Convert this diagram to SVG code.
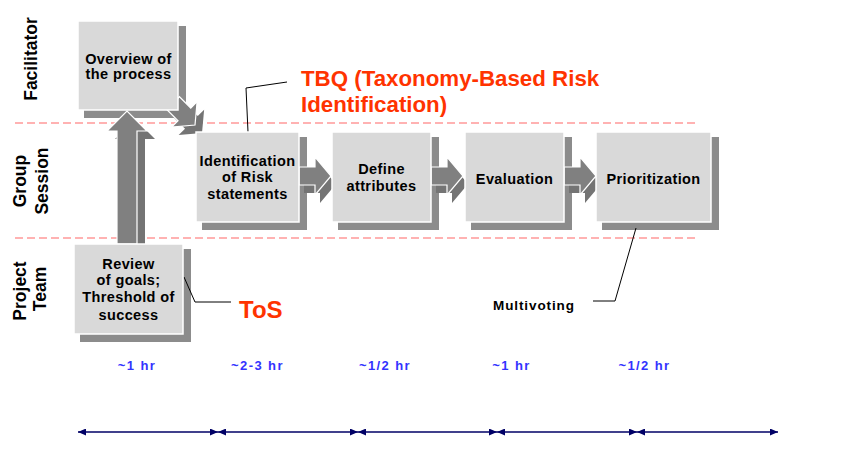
<svg xmlns="http://www.w3.org/2000/svg" width="847" height="466" viewBox="0 0 847 466">
<style>
text{font-family:"Liberation Sans",Arial,sans-serif;font-weight:bold}
.row{font-size:17.5px;fill:#000;text-anchor:middle}
.bt{font-size:14.5px;fill:#000;text-anchor:middle;letter-spacing:0.4px}
.box{fill:#d9d9d9;stroke:#fff;stroke-width:1.5}
.sh{fill:#8c8c8c}
.ar{fill:#808080;stroke:#fff;stroke-width:1.2}
.ars{fill:#747474}
.dash{stroke:#ff9999;stroke-width:1.3;stroke-dasharray:8 4;fill:none}
.lead{stroke:#000;stroke-width:1;fill:none}
.red{font-size:22.3px;fill:#ff3300}
.hr{font-size:13px;fill:#3333ff;text-anchor:middle;letter-spacing:1.4px}
.tl{stroke:#000066;stroke-width:1.5;fill:none;marker-start:url(#tri);marker-end:url(#tri)}
</style>
<defs>
<marker id="tri" viewBox="0 0 8 7" refX="8" refY="3.5" markerWidth="8" markerHeight="7" markerUnits="userSpaceOnUse" orient="auto-start-reverse">
<path d="M0,0 L8,3.5 L0,7 Z" fill="#000066"/>
</marker>
</defs>
<rect width="847" height="466" fill="#fff"/>

<g id="lanes">
<line class="dash" x1="15" y1="123" x2="697" y2="123"/>
<line class="dash" x1="15" y1="238" x2="697" y2="238"/>
<text class="row" transform="translate(37,59) rotate(-90)">Facilitator</text>
<text class="row" transform="translate(25.5,181) rotate(-90)">Group</text>
<text class="row" transform="translate(47.5,181) rotate(-90)">Session</text>
<text class="row" transform="translate(25.5,291) rotate(-90)">Project</text>
<text class="row" transform="translate(46,289) rotate(-90)">Team</text>
</g>

<g id="shadows">
<rect class="sh" x="84" y="26" width="102" height="92"/>
<rect class="sh" x="202" y="137" width="105" height="93"/>
<rect class="sh" x="338" y="137" width="101" height="93"/>
<rect class="sh" x="471" y="137" width="101" height="93"/>
<rect class="sh" x="602" y="137" width="117" height="93"/>
<rect class="sh" x="80" y="249" width="111" height="93"/>
</g>

<g id="connectors">
<path class="ars" d="M125,244 V139 H115 L135,119 L155,139 H145 V244 Z"/>
<path class="ar" d="M117,244 V131 H107 L127,111 L147,131 H137 V244 Z"/>
<path class="ars" transform="translate(202,133) rotate(45)" d="M-31,-9 H-15 V-18 L0,0 L-15,18 V9 H-31 Z"/>
<path class="ar" transform="translate(195,125) rotate(45)" d="M-31,-9 H-15 V-18 L0,0 L-15,18 V9 H-31 Z"/>
<path class="ars" d="M304,175 H320 V165 L336,184 L320,203 V193 H304 Z"/>
<path class="ar" d="M299,167 H315 V157 L331,176 L315,195 V185 H299 Z"/>
<path class="ars" d="M436,175 H452 V165 L468,184 L452,203 V193 H436 Z"/>
<path class="ar" d="M431,167 H447 V157 L463,176 L447,195 V185 H431 Z"/>
<path class="ars" d="M569,175 H585 V165 L601,184 L585,203 V193 H569 Z"/>
<path class="ar" d="M564,167 H580 V157 L596,176 L580,195 V185 H564 Z"/>
<polyline class="lead" points="287,82 246,88 248,132"/>
<polyline class="lead" points="184,277 195,302 231,302"/>
<polyline class="lead" points="593,301 615,301 636,228"/>
</g>

<g id="n-overview">
<rect class="box" x="78" y="21" width="100" height="89"/>
<text class="bt" x="128.5" y="63.5">Overview of</text>
<text class="bt" x="128.5" y="79">the process</text>
</g>
<g id="n-identification">
<rect class="box" x="196" y="132" width="103" height="90"/>
<text class="bt" x="247.5" y="165.5">Identification</text>
<text class="bt" x="247.5" y="182">of Risk</text>
<text class="bt" x="247.5" y="198.5">statements</text>
</g>
<g id="n-define">
<rect class="box" x="332" y="132" width="99" height="90"/>
<text class="bt" x="381.5" y="174">Define</text>
<text class="bt" x="381.5" y="190.5">attributes</text>
</g>
<g id="n-evaluation">
<rect class="box" x="465" y="132" width="99" height="90"/>
<text class="bt" x="514.5" y="183.5">Evaluation</text>
</g>
<g id="n-prioritization">
<rect class="box" x="596" y="132" width="115" height="90"/>
<text class="bt" x="653.5" y="183.5">Prioritization</text>
</g>
<g id="n-review">
<rect class="box" x="74" y="244" width="109" height="90"/>
<text class="bt" x="128.5" y="268.5">Review</text>
<text class="bt" x="128.5" y="285">of goals;</text>
<text class="bt" x="128.5" y="301.5">Threshold of</text>
<text class="bt" x="128.5" y="320">success</text>
</g>

<g id="labels">
<text class="red" x="301" y="86">TBQ (Taxonomy-Based Risk</text>
<text class="red" x="301" y="111.5">Identification)</text>
<text class="red" x="239" y="318" style="font-size:24px">ToS</text>
<text x="493" y="310" style="font-size:13.5px;letter-spacing:0.9px;fill:#000">Multivoting</text>
<text class="hr" x="137" y="370">~1 hr</text>
<text class="hr" x="257.5" y="370">~2-3 hr</text>
<text class="hr" x="385" y="370">~1/2 hr</text>
<text class="hr" x="511.5" y="370">~1 hr</text>
<text class="hr" x="644.5" y="370">~1/2 hr</text>
</g>

<g id="timeline">
<line class="tl" x1="78" y1="432" x2="218" y2="432"/>
<line class="tl" x1="218" y1="432" x2="358" y2="432"/>
<line class="tl" x1="358" y1="432" x2="497" y2="432"/>
<line class="tl" x1="497" y1="432" x2="637" y2="432"/>
<line class="tl" x1="637" y1="432" x2="778" y2="432"/>
</g>
</svg>
